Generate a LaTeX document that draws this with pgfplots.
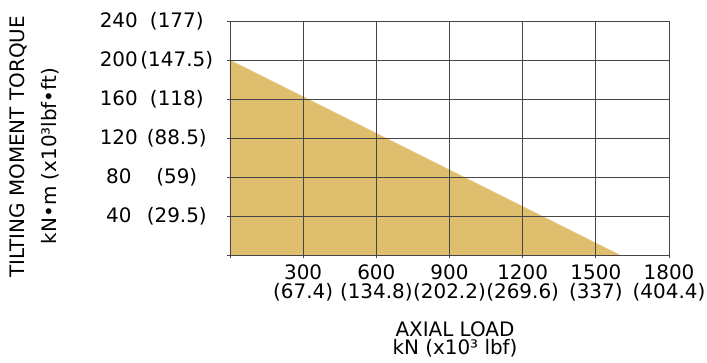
\documentclass[border=0pt]{standalone}
\usepackage{pgfplots}
\pgfplotsset{compat=1.18}
\usepackage{fontspec}
\setmainfont{DejaVu Sans}
\definecolor{fillc}{RGB}{223,190,110}
\definecolor{gridc}{RGB}{70,70,70}
\newcommand{\yl}[2]{\makebox[50bp][c]{#1}\makebox[66bp][c]{#2}}
\begin{document}
\begin{tikzpicture}[x=1bp,y=1bp]
\useasboundingbox (-230,-107) rectangle (477,255);
\begin{axis}[
  at={(0,0)}, anchor=south west,
  scale only axis, width=439bp, height=234bp,
  xmin=0, xmax=1800, ymin=0, ymax=240,
  xtick={0,300,600,900,1200,1500,1800},
  ytick={0,40,80,120,160,200,240},
  xticklabels={,{300\\(67.4)},{600\\(134.8)},{900\\(202.2)},{1200\\(269.6)},{1500\\(337)},{1800\\(404.4)}},
  yticklabels={,{\yl{40}{(29.5)}},{\yl{80}{(59)}},{\yl{120}{(88.5)}},{\yl{160}{(118)}},{\yl{200}{(147.5)}},{\yl{240}{(177)}}},
  xtick pos=bottom, ytick pos=left,
  tick align=outside, major tick length=3bp,
  grid=major,
  major grid style={gridc, line width=0.9bp},
  axis line style={gridc, line width=0.9bp},
  every tick/.style={gridc, line width=0.9bp},
  axis on top,
  xticklabel style={font=\fontsize{20}{19}\selectfont, align=center, anchor=north, inner sep=0pt, yshift=-7bp},
  yticklabel style={font=\fontsize{20}{19}\selectfont, anchor=east, inner sep=0pt, xshift=-17bp},
]
\addplot[fill=fillc, draw=none] coordinates {(0,0) (0,200) (1600,0)} -- cycle;
\end{axis}
\node[anchor=base, inner sep=0pt, font=\fontsize{20}{20}\selectfont] at (225,-81) {AXIAL LOAD};
\node[anchor=base, inner sep=0pt, font=\fontsize{20}{20}\selectfont] at (225,-99) {kN (x10³ lbf)};
\node[anchor=base, rotate=90, inner sep=0pt, font=\fontsize{20}{20}\selectfont] at (-205,108) {TILTING MOMENT TORQUE};
\node[anchor=base, rotate=90, inner sep=0pt, font=\fontsize{20}{20}\selectfont] at (-173,99) {kN•m (x10³lbf•ft)};
\end{tikzpicture}
\end{document}
